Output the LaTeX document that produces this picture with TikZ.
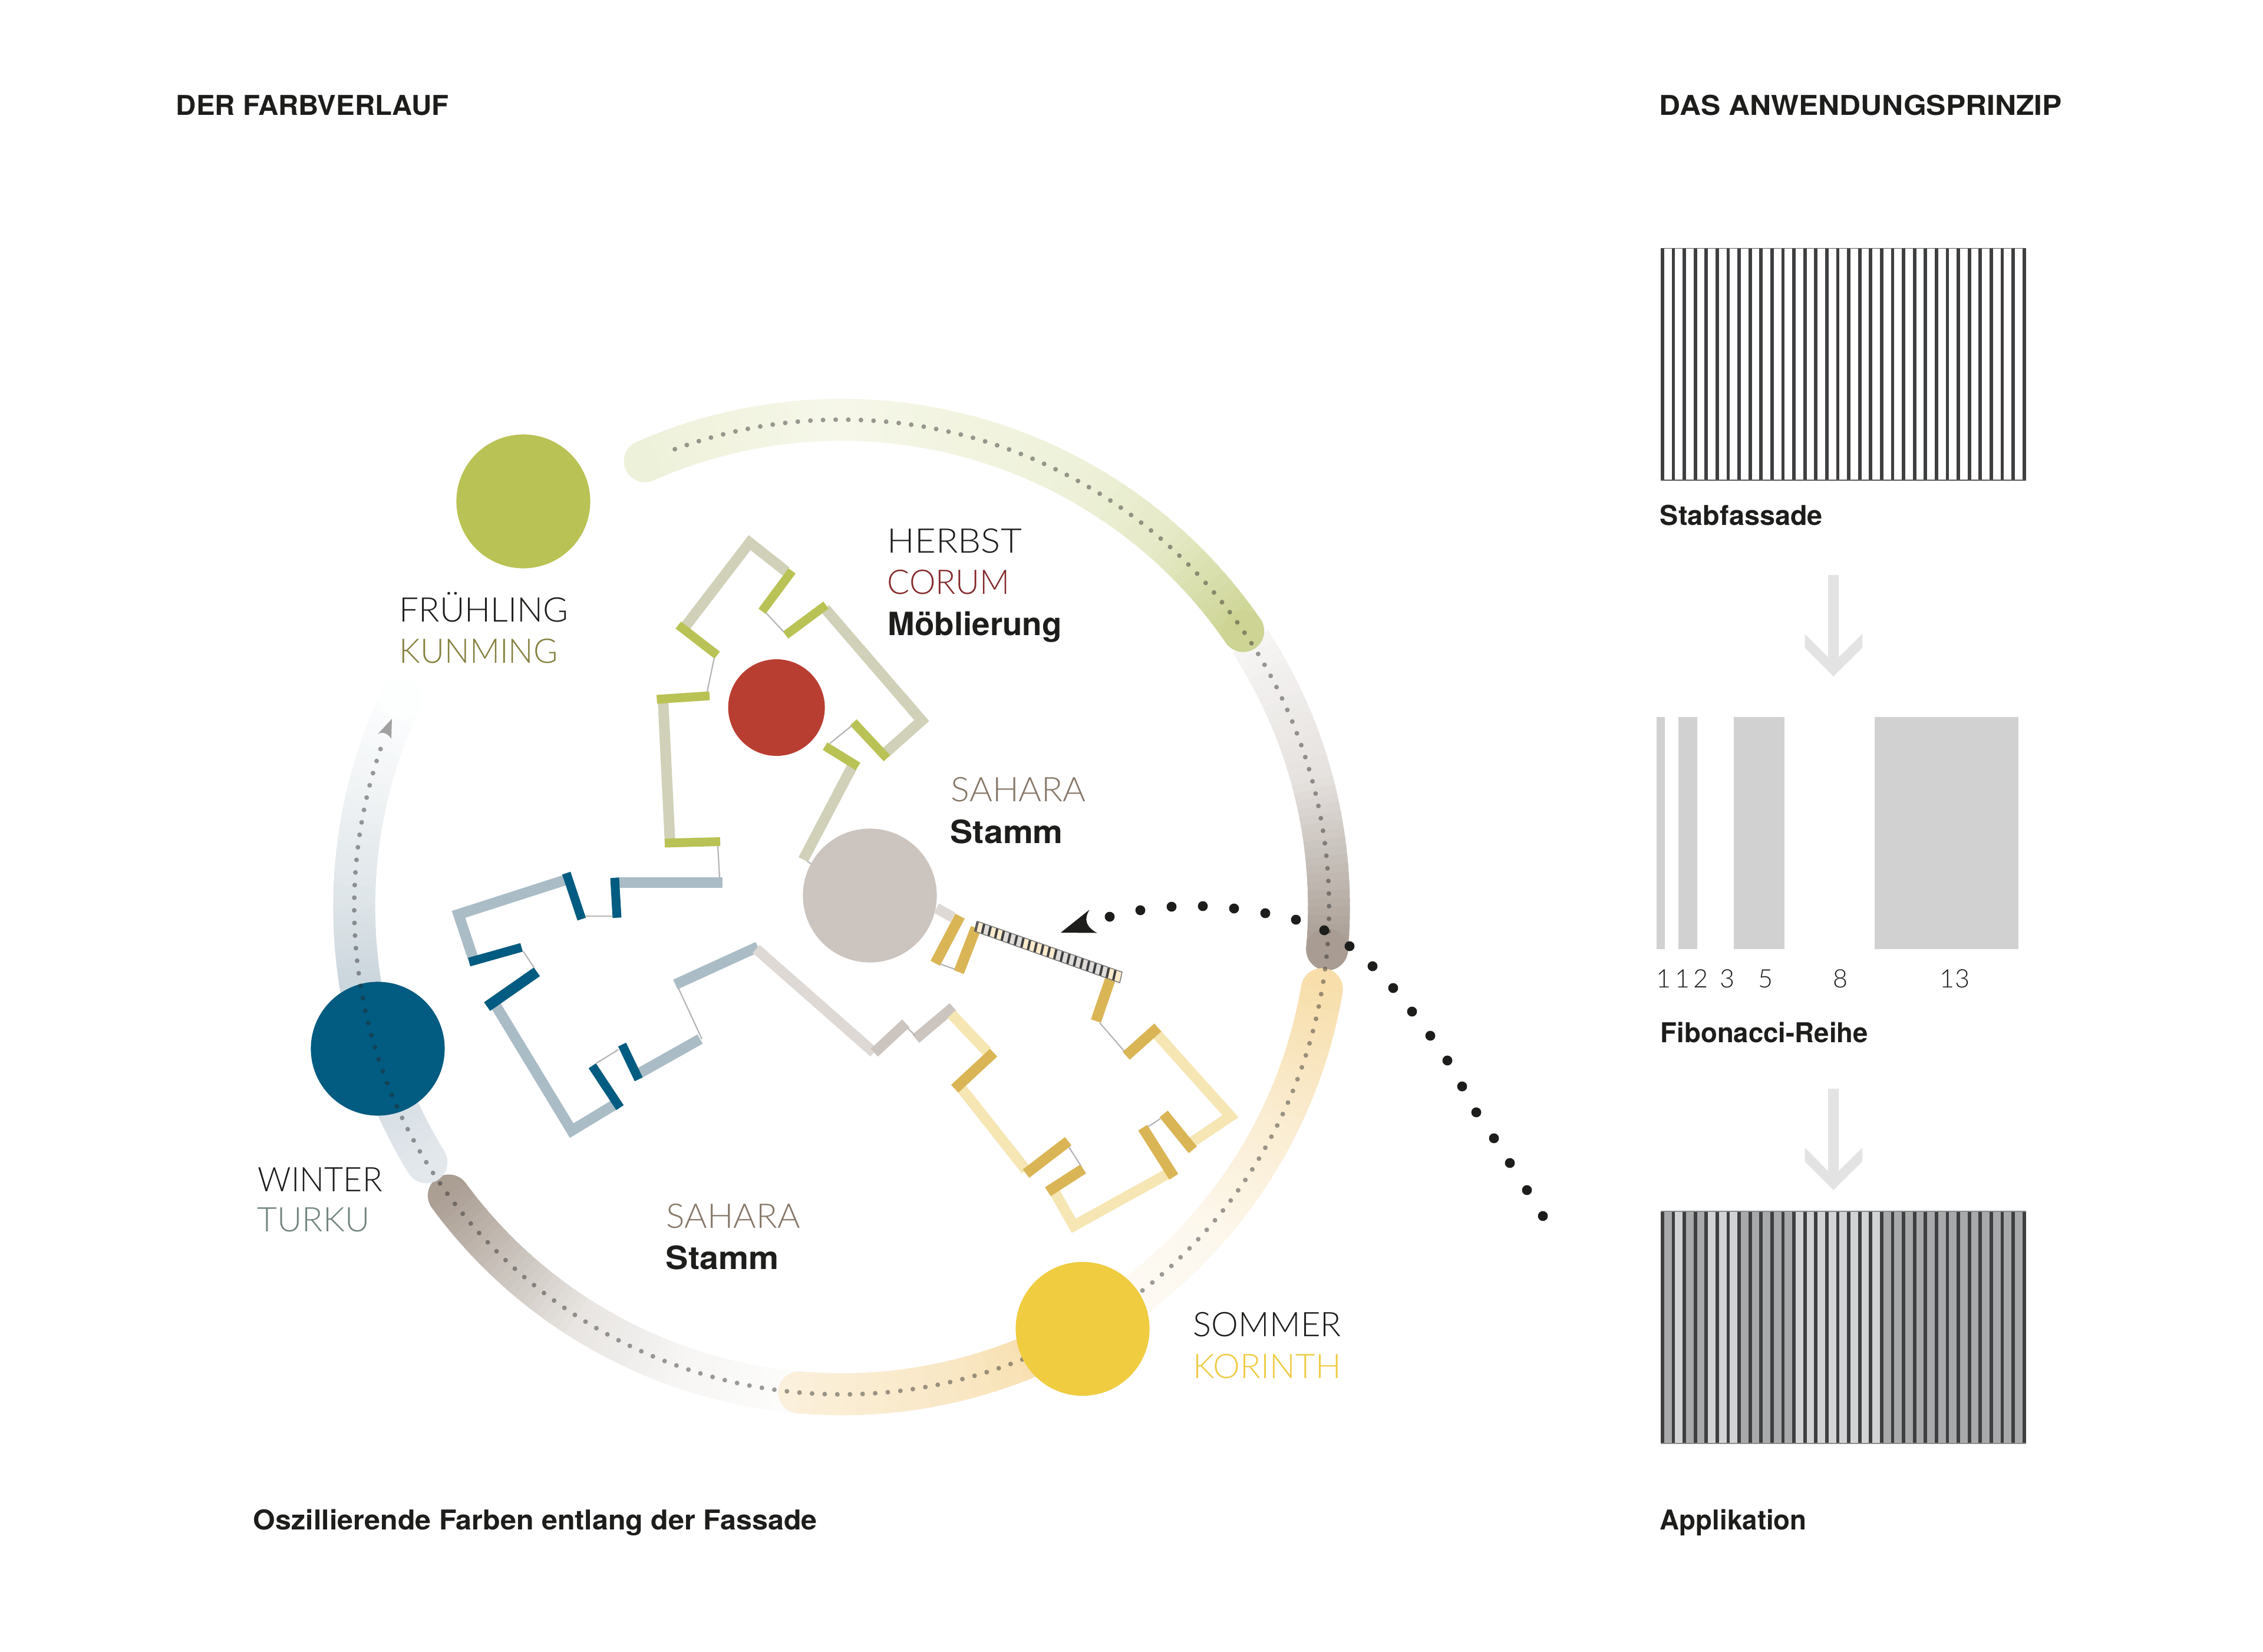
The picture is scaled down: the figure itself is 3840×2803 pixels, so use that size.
\documentclass[tikz,border=0pt]{standalone}
\usepackage{fontspec}
\usepackage{graphicx}
\usetikzlibrary{calc}
\newfontfamily\lightf{Lato Light}
\newfontfamily\boldf{TeX Gyre Heros}[BoldFont=* Bold]
\newdimen\pxu \pxu=0.25pt
\newcommand\fitT[2]{\resizebox{#1\pxu}{\height}{#2}}
\definecolor{ink}{HTML}{1D1D1B}
\definecolor{herbstBandC}{HTML}{D0D1B8}
\definecolor{herbstBarC}{HTML}{B9C254}
\definecolor{winterBandC}{HTML}{AABCC5}
\definecolor{winterBarC}{HTML}{025B80}
\definecolor{saharaBandC}{HTML}{DED9D5}
\definecolor{saharaBarC}{HTML}{CCC4BE}
\definecolor{sommerBandC}{HTML}{F5E6B3}
\definecolor{sommerBarC}{HTML}{DAB556}
\definecolor{linkC}{HTML}{B5B5B5}
\definecolor{railCream}{HTML}{FBEBCB}
\definecolor{railGrey}{HTML}{DEDBD8}
\definecolor{stabDark}{HTML}{3E3F41}
\definecolor{appA}{HTML}{A7A9AB}
\definecolor{appL}{HTML}{D1D3D4}
\definecolor{fibC}{HTML}{D1D1D1}
\definecolor{arrC}{HTML}{E3E3E3}
\definecolor{kunmingC}{HTML}{85803F}
\definecolor{corumC}{HTML}{84292B}
\definecolor{saharaTxt}{HTML}{857666}
\definecolor{turkuC}{HTML}{728480}
\definecolor{korinthC}{HTML}{EFCB44}
\definecolor{circGreen}{HTML}{B9C254}
\definecolor{circRed}{HTML}{B93E32}
\definecolor{circSahara}{HTML}{CCC4BE}
\definecolor{circBlue}{HTML}{025B80}
\definecolor{circYellow}{HTML}{EFCC40}
% gradient arc in slices: a0, a1, hex0, hex1, steps
\newcommand\gradarc[5]{%
  \definecolor{ga}{HTML}{#3}\definecolor{gb}{HTML}{#4}%
  \foreach \k in {1,...,#5}{%
    \pgfmathsetmacro\aS{#1+(#2-#1)*(\k-1)/#5}%
    \pgfmathsetmacro\aE{#1+(#2-#1)*(\k+0.35)/#5}%
    \pgfmathsetmacro\pc{100*\k/#5}%
    \draw[ringband,draw=gb!\pc!ga] (\aS:206.75pt) arc[start angle=\aS,end angle=\aE,radius=206.75pt];
  }}
\newcommand\ringcap[2]{\definecolor{gc}{HTML}{#2}\fill[gc] (#1:206.75pt) circle[radius=8.9pt];}
\tikzset{
  ringband/.style={line width=17.8pt,line cap=butt},
  band18/.style={line width=4.5pt,line cap=butt,line join=miter},
  bar15/.style={line width=3.75pt,line cap=butt},
  bar18/.style={line width=4.5pt,line cap=butt},
  hband/.style={band18,draw=herbstBandC},
  hbar/.style={bar15,draw=herbstBarC},
  wband/.style={band18,draw=winterBandC},
  wbar/.style={bar15,draw=winterBarC},
  sband/.style={band18,draw=saharaBandC},
  sbar/.style={bar18,draw=saharaBarC},
  yband/.style={band18,draw=sommerBandC},
  ybar/.style={bar18,draw=sommerBarC},
  linkline/.style={line width=.55pt,draw=linkC},
  lightlbl/.style={anchor=base west,inner sep=0pt,font=\lightf\fontsize{14.4}{17}\selectfont},
  boldlbl/.style={anchor=base west,inner sep=0pt,text=ink,font=\boldf\bfseries\fontsize{11.6}{14}\selectfont},
  boldbig/.style={boldlbl,font=\boldf\bfseries\fontsize{13.6}{16}\selectfont},
  numlbl/.style={anchor=base,inner sep=0pt,text=ink,font=\lightf\fontsize{10.8}{13}\selectfont},
  blackdot/.style={fill=ink},
  bigarrow/.style={fill=arrC},
}
\begin{document}
\begin{tikzpicture}[x=0.25pt,y=-0.25pt]
\useasboundingbox (0,0) rectangle (3840,2803);
\fill[white] (0,0) rectangle (3840,2803);

% ---------- ring ----------
\begin{scope}[shift={(1428,1539.5)},x=0.25pt,y=0.25pt]
  % autumn
  \gradarc{33}{15}{F7F6F5}{E6E2DF}{14}
  \gradarc{15}{5}{E6E2DF}{C6BFB9}{10}
  \gradarc{5}{-5}{C6BFB9}{A99D93}{10}
  \ringcap{-5}{A99D93}
  % summer 1
  \ringcap{-9.7}{F7DEAB}
  \gradarc{-9.7}{-26}{F7DEAB}{FAECD0}{14}
  \gradarc{-26}{-43}{FAECD0}{FDF8EE}{14}
  \gradarc{-43}{-62}{FDF8EE}{FEFCF8}{10}
  % sahara lower
  \ringcap{216.3}{AB9E93}
  \gradarc{216.3}{226}{AB9E93}{C6BEB7}{10}
  \gradarc{226}{238}{C6BEB7}{E8E5E2}{12}
  \gradarc{238}{252}{E8E5E2}{F7F6F5}{12}
  \gradarc{252}{266}{F7F6F5}{FDFDFC}{10}
  % summer 2
  \ringcap{-95}{FBF0DB}
  \gradarc{-95}{-75}{FBF0DB}{F9E7C4}{12}
  \gradarc{-75}{-60}{F9E7C4}{F6DAA2}{12}
  % winter
  \ringcap{211.6}{E3E8EC}
  \gradarc{211.6}{200}{E3E8EC}{D3DCE2}{10}
  \gradarc{200}{188}{D3DCE2}{CBD6DD}{10}
  \gradarc{188}{180}{CBD6DD}{DCE3E7}{8}
  \gradarc{180}{165}{DCE3E7}{F1F4F5}{12}
  \gradarc{165}{154.7}{F1F4F5}{FDFEFE}{8}
  \ringcap{154.7}{FDFEFE}
  % spring
  \ringcap{113.8}{EEF1D9}
  \gradarc{113.8}{90}{EEF1D9}{F6F7E9}{16}
  \gradarc{90}{60}{F6F7E9}{EEF1D8}{18}
  \gradarc{60}{48}{EEF1D8}{E5E9C6}{10}
  \gradarc{48}{34.5}{E5E9C6}{CDD494}{12}
  \ringcap{34.5}{CDD494}
\end{scope}

% ---------- circles below the dots ----------
\fill[circBlue] (641,1780) circle[radius=28.4pt];

% ---------- dotted ring path and its arrowhead ----------
\begin{scope}[shift={(1428,1539.5)},x=0.25pt,y=0.25pt]
  \draw[draw=black!85,opacity=.45,line width=2pt,line cap=round,dash pattern=on 0pt off 5.36pt]
    (110:206.75pt) arc[start angle=110,end angle=-199.5,radius=206.75pt];
\end{scope}
\fill[black!37] (665,1220) -- (641,1246) .. controls (650,1241) and (658,1245) .. (664,1254) -- cycle;

% ---------- other circles ----------
\fill[circGreen] (888,851) circle[radius=28.4pt];
\fill[circRed] (1317.6,1201) circle[radius=20.5pt];
\fill[circSahara] (1476,1520) circle[radius=28.4pt];
\fill[circYellow] (1837,2255.5) circle[radius=28.4pt];

% ---------- Herbst loop ----------
\draw[hband] (1125,1187) -- (1137,1431);
\draw[hband] (1164,1062) -- (1272,921) -- (1334,970);
\draw[hband] (1400,1033) -- (1564,1223) -- (1500,1280);
\draw[hband] (1446,1301) -- (1363,1459);
\draw[hbar] (1344,969) -- (1293,1037.5);
\draw[hbar] (1401.5,1027) -- (1333,1078);
\draw[hbar] (1448,1226) -- (1505,1287);
\draw[hbar] (1400,1266.5) -- (1456,1301);
\draw[hbar] (1151,1061) -- (1217,1112);
\draw[hbar] (1114.5,1187) -- (1204,1181);
\draw[hbar] (1128,1431) -- (1222,1428.5);
\draw[linkline] (1299.5,1040) -- (1329.5,1072);
\draw[linkline] (1445,1232) -- (1408,1262);
\draw[linkline] (1212,1116.5) -- (1200,1173.7);
\draw[linkline] (1218,1436) -- (1221,1489);
\draw[linkline] (1370,1462) -- (1376,1466);

% ---------- Winter loop ----------
\draw[wband] (1225.5,1498.4) -- (1045,1498.4);
\draw[wband] (958,1494) -- (778,1552) -- (802,1624);
\draw[wband] (839,1703) -- (970,1919) -- (1046,1873);
\draw[wband] (1086,1821) -- (1188,1763.6);
\draw[wband] (1286,1607) -- (1146,1671);
\draw[wbar] (1043,1490) -- (1047,1557.7);
\draw[wbar] (961,1482) -- (987,1560);
\draw[wbar] (885,1608) -- (796,1633);
\draw[bar18,draw=winterBarC] (911,1649.5) -- (826.5,1708.5);
\draw[wbar] (1005,1809) -- (1052,1880);
\draw[wbar] (1055.6,1773) -- (1083.7,1832);
\draw[linkline] (994,1555) -- (1039,1555);
\draw[linkline] (888,1615) -- (906,1642);
\draw[linkline] (1012,1804.5) -- (1049.5,1781.5);
\draw[linkline] (1191,1763.5) -- (1151.5,1678);

% ---------- Sahara ----------
\draw[sband] (1283,1610.5) -- (1483,1786.5);
\draw[sband] (1589,1541.5) -- (1617,1557);
\draw[sbar] (1483.6,1786.7) -- (1537,1737);
\draw[sbar] (1554,1763) -- (1617.4,1709.6);
\draw[linkline] (1540,1745) -- (1552.5,1757);

% ---------- Sommer loop ----------
\draw[yband] (1614.5,1721.4) -- (1675,1785);
\draw[yband] (1632,1848) -- (1741,1986);
\draw[yband] (1790,2024) -- (1822,2080.5) -- (1982,1992);
\draw[yband] (2022,1939) -- (2088,1894.6) -- (1960,1752);
\draw[ybar] (1686,1786.7) -- (1620,1848);
\draw[ybar] (1812.6,1937) -- (1741,1992);
\draw[ybar] (1838,1984) -- (1778,2022.7);
\draw[ybar] (1991.7,1997.4) -- (1939,1914);
\draw[ybar] (1974.5,1890.7) -- (2024,1951.6);
\draw[ybar] (1964.7,1744) -- (1911,1792);
\draw[ybar] (1859.6,1733) -- (1884,1662);
\draw[ybar] (1629,1555) -- (1587,1635);
\draw[ybar] (1656,1575) -- (1627,1650);
\draw[linkline] (1813.7,1947) -- (1834,1978.5);
\draw[linkline] (1948.6,1912) -- (1968.7,1899);
\draw[linkline] (1907,1783.5) -- (1866,1736);
\draw[linkline] (1596,1636.4) -- (1620,1645);

% ---------- striped rail ----------
\coordinate (railA) at (1659,1564);
\coordinate (railB) at (1904,1650);
\coordinate (railC) at (1655,1581);
\coordinate (railD) at (1900,1668);
\foreach \s/\e/\c in {0/1/railCream,1/2/railGrey,2/4/railCream,4/7/railGrey,7/12/railCream,12/20/railGrey,20/22/railCream}
  \fill[\c] ($(railA)!\s/22!(railB)$) -- ($(railA)!\e/22!(railB)$) -- ($(railC)!\e/22!(railD)$) -- ($(railC)!\s/22!(railD)$) -- cycle;
\foreach \k in {0,...,21}
  \draw[stabDark,line width=1pt] ($(railA)!\k/22!(railB)$) -- ($(railC)!\k/22!(railD)$);
\draw[black!55,line width=.35pt] (railA) -- (railB) -- (railD) -- (railC) -- cycle;

% ---------- black dotted curve ----------
\foreach \x/\y in {1883/1556,1935/1545,1988/1539,2041/1538,2094/1542,2147/1550,2199/1561,2247/1579,2290/1606,2329/1640,2364/1677,2396/1717,2427/1758,2456/1800,2481/1844,2505/1888,2535/1932,2562/1974,2591/2020,2618/2064}
  \fill[blackdot] (\x,\y) circle[radius=2.1pt];
\fill[ink] (1800,1583) -- (1848.7,1544) .. controls (1838,1562) and (1844,1574) .. (1861.6,1583.5) -- cycle;

% ---------- right column: Stabfassade ----------
\foreach \k in {0,...,33}
  \fill[stabDark] ({2818+\k*18.6},421.5) rectangle ({2823.8+\k*18.6},815);
\draw[black!65,line width=.4pt] (2818,421.5) -- (3437.6,421.5);
\draw[black!65,line width=.4pt] (2818,815) -- (3437.6,815);

% ---------- arrows ----------
\foreach \dy in {0,872}
  \fill[bigarrow] (3102,976+\dy) -- (3120,976+\dy) -- (3120,1115.6+\dy) -- (3160,1076+\dy) -- (3160,1099.5+\dy) -- (3111,1148+\dy) -- (3062.6,1099.5+\dy) -- (3062.6,1076+\dy) -- (3102,1115.6+\dy) -- cycle;

% ---------- Fibonacci ----------
\fill[fibC] (2811,1217) rectangle (2824.6,1611);
\fill[fibC] (2848,1217) rectangle (2880,1611);
\fill[fibC] (2941.6,1217) rectangle (3028,1611);
\fill[fibC] (3181,1217) rectangle (3425,1611);
\node[numlbl] (f1) at (2823,1676) {1};
\node[numlbl] (f2) at (2854.5,1676) {1};
\node[numlbl] (f3) at (2886,1676) {2};
\node[numlbl] (f4) at (2931,1676) {3};
\node[numlbl] (f5) at (2995.6,1676) {5};
\node[numlbl] (f6) at (3123,1676) {8};
\node[numlbl] (f7) at (3317,1676) {13};

% ---------- Applikation ----------
\foreach \s/\e/\c in {0/1/appA,1/2/appL,2/4/appA,4/7/appL,7/12/appA,12/20/appL,20/33/appA}
  \fill[\c] ({2818+\s*18.6},2056) rectangle ({2823.8+\e*18.6},2450);
\foreach \k in {0,...,33}
  \fill[stabDark] ({2818+\k*18.6},2056) rectangle ({2823.8+\k*18.6},2450);
\draw[black!45,line width=.4pt] (2818,2056) -- (3437.6,2056);
\draw[black!45,line width=.4pt] (2818,2450) -- (3437.6,2450);

% ---------- texts ----------
\node[boldlbl] (t1) at (298,196) {\fitT{463}{DER FARBVERLAUF}};
\node[boldlbl] (t2) at (2815,196) {\fitT{683}{DAS ANWENDUNGSPRINZIP}};
\node[boldlbl] (t3) at (2816,891.5) {\fitT{276}{Stabfassade}};
\node[boldlbl] (t4) at (2817,1769) {\fitT{352}{Fibonacci-Reihe}};
\node[boldlbl] (t5) at (2816,2596) {\fitT{249}{Applikation}};
\node[boldlbl] (t6) at (429,2596) {\fitT{957}{Oszillierende Farben entlang der Fassade}};
\node[lightlbl,text=ink] (t7) at (677,1055) {\fitT{287}{FRÜHLING}};
\node[lightlbl,text=kunmingC] (t8) at (677,1125.5) {\fitT{269}{KUNMING}};
\node[lightlbl,text=ink] (t9) at (1505,938) {\fitT{228}{HERBST}};
\node[lightlbl,text=corumC] (t10) at (1505,1008) {\fitT{208}{CORUM}};
\node[boldbig] (t11) at (1506,1078) {\fitT{295}{Möblierung}};
\node[lightlbl,text=saharaTxt] (t12) at (1613,1360) {\fitT{229}{SAHARA}};
\node[boldbig] (t13) at (1612,1431) {\fitT{191}{Stamm}};
\node[lightlbl,text=ink] (t14) at (437,2022) {\fitT{211}{WINTER}};
\node[lightlbl,text=turkuC] (t15) at (436,2090.7) {\fitT{191}{TURKU}};
\node[lightlbl,text=saharaTxt] (t16) at (1130,2084) {\fitT{227}{SAHARA}};
\node[boldbig] (t17) at (1129,2154.5) {\fitT{192}{Stamm}};
\node[lightlbl,text=ink] (t18) at (2024,2268) {\fitT{251}{SOMMER}};
\node[lightlbl,text=korinthC] (t19) at (2024,2339) {\fitT{251}{KORINTH}};
\end{tikzpicture}
\end{document}
